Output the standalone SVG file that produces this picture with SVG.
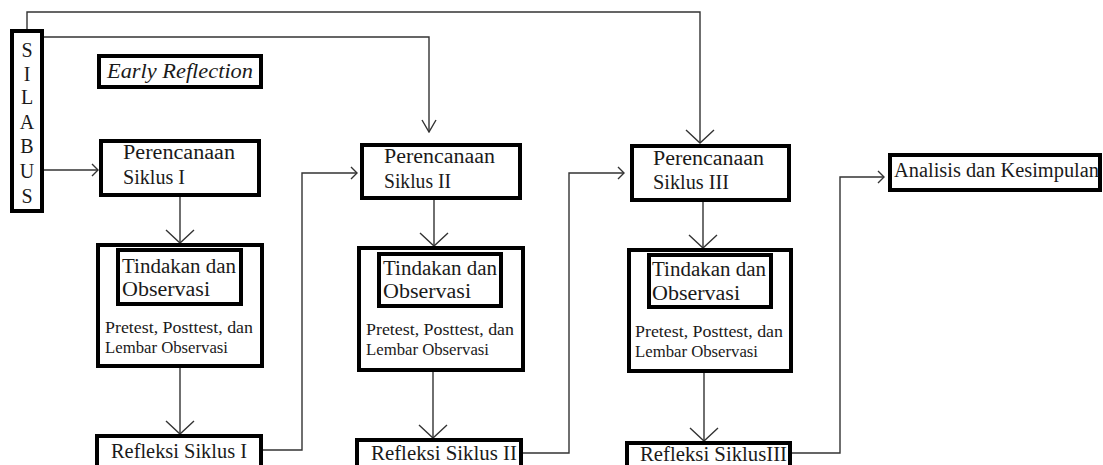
<svg xmlns="http://www.w3.org/2000/svg" width="1103" height="465" viewBox="0 0 1103 465">
<style>
  .box { fill: #ffffff; stroke: #000000; stroke-width: 4; }
  .t { font-family: 'Liberation Serif', 'DejaVu Serif', serif; font-size: 20px; fill: #1a1a1a; }
  .s { font-family: 'Liberation Serif', 'DejaVu Serif', serif; font-size: 17px; fill: #1a1a1a; }
  .c { fill: none; stroke: #333333; stroke-width: 1.4; }
  .ah { fill: none; stroke: #333333; stroke-width: 1.4; }
</style>
<defs>
  <marker id="big" markerUnits="userSpaceOnUse" markerWidth="16" markerHeight="32" viewBox="0 0 16 32" refX="14" refY="16" orient="auto">
    <path class="ah" d="M1,2 L14,16 L1,30"/>
  </marker>
  <marker id="med" markerUnits="userSpaceOnUse" markerWidth="14" markerHeight="18" viewBox="0 0 14 18" refX="13" refY="9" orient="auto">
    <path class="ah" d="M1,2 L13,9 L1,16"/>
  </marker>
  <marker id="small" markerUnits="userSpaceOnUse" markerWidth="9" markerHeight="16" viewBox="0 0 9 16" refX="7" refY="8" orient="auto">
    <path class="ah" d="M1,2 L7,8 L1,14"/>
  </marker>
</defs>
<rect width="1103" height="465" fill="#ffffff"/>

<g id="connectors">
  <path class="c" d="M27,29 V12 H700 V143" marker-end="url(#big)"/>
  <path class="c" d="M44,37 H429 V132" marker-end="url(#med)"/>
  <path class="c" d="M44,170 H98" marker-end="url(#small)"/>
  <path class="c" d="M180,197 V243" marker-end="url(#big)"/>
  <path class="c" d="M180,368 V434" marker-end="url(#big)"/>
  <path class="c" d="M263,450 H302 V173 H357" marker-end="url(#small)"/>
  <path class="c" d="M434,200 V246" marker-end="url(#big)"/>
  <path class="c" d="M433,372 V438" marker-end="url(#big)"/>
  <path class="c" d="M523,453 H569 V173 H624" marker-end="url(#small)"/>
  <path class="c" d="M703,202 V248" marker-end="url(#big)"/>
  <path class="c" d="M704,373 V441" marker-end="url(#big)"/>
  <path class="c" d="M792,453 H840 V177 H884" marker-end="url(#small)"/>
</g>

<g id="silabus">
  <rect class="box" x="12" y="31" width="30" height="180"/>
  <text class="t" text-anchor="middle" x="27" y="57">S</text>
  <text class="t" text-anchor="middle" x="27" y="81">I</text>
  <text class="t" text-anchor="middle" x="27" y="104">L</text>
  <text class="t" text-anchor="middle" x="27" y="129">A</text>
  <text class="t" text-anchor="middle" x="27" y="153">B</text>
  <text class="t" text-anchor="middle" x="27" y="178">U</text>
  <text class="t" text-anchor="middle" x="27" y="203">S</text>
</g>

<g id="early-reflection">
  <rect class="box" x="99" y="56" width="162" height="31"/>
  <text class="t" x="107" y="78" font-style="italic" textLength="146" lengthAdjust="spacingAndGlyphs">Early Reflection</text>
</g>

<g id="perencanaan-1">
  <rect class="box" x="101" y="141" width="158" height="54"/>
  <text class="t" x="123" y="159" textLength="112" lengthAdjust="spacingAndGlyphs">Perencanaan</text>
  <text class="t" x="123" y="184" textLength="62" lengthAdjust="spacingAndGlyphs">Siklus I</text>
</g>

<g id="tindakan-1">
  <rect class="box" x="98" y="245" width="164" height="121"/>
  <rect class="box" x="118" y="250" width="123" height="54"/>
  <text class="t" x="122" y="273" textLength="114" lengthAdjust="spacingAndGlyphs">Tindakan dan</text>
  <text class="t" x="122" y="296" textLength="88" lengthAdjust="spacingAndGlyphs">Observasi</text>
  <text class="s" x="105" y="333" textLength="148" lengthAdjust="spacingAndGlyphs">Pretest, Posttest, dan</text>
  <text class="s" x="105" y="353" textLength="123" lengthAdjust="spacingAndGlyphs">Lembar Observasi</text>
</g>

<g id="refleksi-1">
  <rect class="box" x="97" y="436" width="164" height="40"/>
  <text class="t" x="111" y="458" textLength="136" lengthAdjust="spacingAndGlyphs">Refleksi Siklus I</text>
</g>

<g id="perencanaan-2">
  <rect class="box" x="362" y="145" width="158" height="53"/>
  <text class="t" x="384" y="163" textLength="111" lengthAdjust="spacingAndGlyphs">Perencanaan</text>
  <text class="t" x="384" y="188" textLength="67" lengthAdjust="spacingAndGlyphs">Siklus II</text>
</g>

<g id="tindakan-2">
  <rect class="box" x="359" y="248" width="164" height="122"/>
  <rect class="box" x="379" y="254" width="122" height="52"/>
  <text class="t" x="383" y="275" textLength="114" lengthAdjust="spacingAndGlyphs">Tindakan dan</text>
  <text class="t" x="383" y="298" textLength="88" lengthAdjust="spacingAndGlyphs">Observasi</text>
  <text class="s" x="366" y="335" textLength="148" lengthAdjust="spacingAndGlyphs">Pretest, Posttest, dan</text>
  <text class="s" x="366" y="355" textLength="123" lengthAdjust="spacingAndGlyphs">Lembar Observasi</text>
</g>

<g id="refleksi-2">
  <rect class="box" x="357" y="440" width="164" height="40"/>
  <text class="t" x="371" y="460" textLength="146" lengthAdjust="spacingAndGlyphs">Refleksi Siklus II</text>
</g>

<g id="perencanaan-3">
  <rect class="box" x="632" y="146" width="157" height="54"/>
  <text class="t" x="653" y="165" textLength="111" lengthAdjust="spacingAndGlyphs">Perencanaan</text>
  <text class="t" x="653" y="189" textLength="76" lengthAdjust="spacingAndGlyphs">Siklus III</text>
</g>

<g id="tindakan-3">
  <rect class="box" x="629" y="250" width="162" height="121"/>
  <rect class="box" x="649" y="255" width="122" height="52"/>
  <text class="t" x="652" y="276" textLength="114" lengthAdjust="spacingAndGlyphs">Tindakan dan</text>
  <text class="t" x="652" y="300" textLength="88" lengthAdjust="spacingAndGlyphs">Observasi</text>
  <text class="s" x="635" y="337" textLength="148" lengthAdjust="spacingAndGlyphs">Pretest, Posttest, dan</text>
  <text class="s" x="635" y="357" textLength="123" lengthAdjust="spacingAndGlyphs">Lembar Observasi</text>
</g>

<g id="refleksi-3">
  <rect class="box" x="627" y="443" width="163" height="40"/>
  <text class="t" x="640" y="461" textLength="147" lengthAdjust="spacingAndGlyphs">Refleksi SiklusIII</text>
</g>

<g id="analisis">
  <rect class="box" x="890" y="155" width="210" height="35"/>
  <text class="t" x="894" y="177" textLength="205" lengthAdjust="spacingAndGlyphs">Analisis dan Kesimpulan</text>
</g>
</svg>
